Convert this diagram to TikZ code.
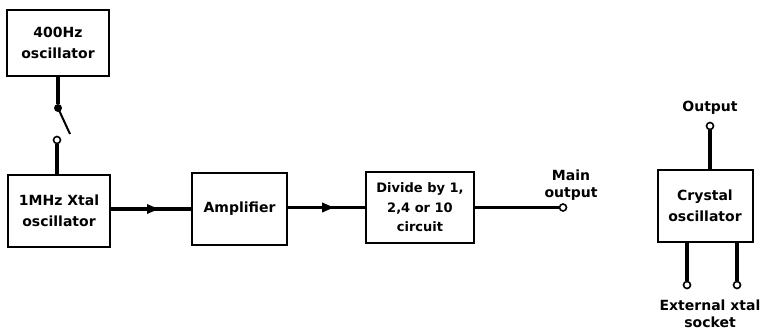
\documentclass[tikz,border=0pt]{standalone}
\usepackage{fontspec}
\setmainfont{DejaVu Sans}
\usetikzlibrary{arrows.meta,decorations.markings}
\begin{document}
\begin{tikzpicture}[x=1pt,y=-1pt,
  blk/.style={draw,line width=2pt,inner sep=0pt,font=\bfseries\fontsize{14}{21}\selectfont,align=center},
  wire/.style={line width=3.2pt},
  flow/.style={wire,postaction={decorate},decoration={markings,mark=at position 0.6 with {\arrow{Triangle[length=12pt,width=9pt]}}}},
  term/.style={circle,draw,line width=1.6pt,fill=white,inner sep=0pt,minimum size=7pt},
  lbl/.style={font=\bfseries\fontsize{14}{17}\selectfont,align=center,inner sep=0pt}]
\useasboundingbox (0,0) rectangle (760,332);
\node[blk,minimum width=102pt,minimum height=66pt] (o400) at (58,43) {400Hz\\oscillator};
\node[blk,minimum width=102pt,minimum height=72pt] (xtal) at (59,211) {1MHz Xtal\\oscillator};
\node[blk,minimum width=95pt,minimum height=72pt] (amp) at (239.5,209) {Amplifier};
\node[blk,minimum width=108pt,minimum height=71pt,font=\bfseries\fontsize{13}{19.5}\selectfont] (div) at (420,207.5) {Divide by 1,\\2,4 or 10\\circuit};
\node[blk,minimum width=95pt,minimum height=72pt] (cry) at (705,206) {Crystal\\oscillator};
% switch
\node[circle,fill,inner sep=0pt,minimum size=8pt] (sw1) at (58,108) {};
\node[term] (sw2) at (57,140) {};
\coordinate (blade) at (70,134);
\draw[wire] (o400.south) -- (sw1);
\draw[line width=2pt] (sw1.center) -- (blade);
\draw[wire] (sw2) -- (sw2 |- xtal.north);
% chain
\draw[flow] (xtal.east |- 0,209) -- (amp.west);
\draw[flow] (amp.east |- 0,207.5) -- (div.west);
\node[term] (mout) at (563,207.5) {};
\draw[wire] (div.east) -- (mout);
\node[lbl] (mlbl) at (571,185) {Main\\output};
% crystal oscillator
\node[term] (cout) at (710,126) {};
\draw[wire] (cout) -- (cout |- cry.north);
\node[lbl] (olbl) at (710,108) {Output};
\node[term] (x1) at (687,285) {};
\node[term] (x2) at (737,285) {};
\draw[wire] (x1 |- cry.south) -- (x1);
\draw[wire] (x2 |- cry.south) -- (x2);
\node[lbl] (xlbl) at (710,314) {External xtal\\socket};
\end{tikzpicture}
\end{document}
